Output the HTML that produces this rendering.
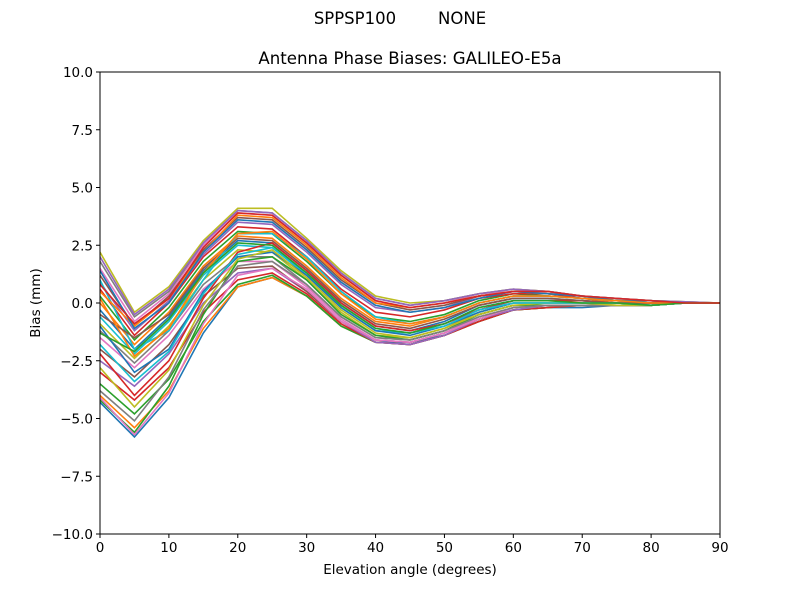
<!DOCTYPE html>
<html><head><meta charset="utf-8"><style>
body{margin:0;background:#fff;}
svg text{font-family:"DejaVu Sans","Liberation Sans",sans-serif;fill:#000;}
</style></head><body>
<svg id="chart" width="800" height="600" xmlns="http://www.w3.org/2000/svg">
<rect width="800" height="600" fill="#fff"/>
<text x="400" y="24" text-anchor="middle" font-size="16.5" xml:space="preserve">SPPSP100        NONE</text>
<text x="410" y="64" text-anchor="middle" font-size="16.6">Antenna Phase Biases: GALILEO-E5a</text>
<g id="lines"></g>
<g id="axes"></g>
<text x="410" y="574" text-anchor="middle" font-size="13.5">Elevation angle (degrees)</text>
<text transform="translate(40,303) rotate(-90)" text-anchor="middle" font-size="13.5">Bias (mm)</text>
</svg>
<script>
const elevations=[0,5,10,15,20,25,30,35,40,45,50,55,60,65,70,75,80,85,90];
const xTicks=[0,10,20,30,40,50,60,70,80,90];
const yTicks=[-10,-7.5,-5,-2.5,0,2.5,5,7.5,10];
const yTickLabels=["\u221210.0","\u22127.5","\u22125.0","\u22122.5","0.0","2.5","5.0","7.5","10.0"];
const s01=[-4.3,-5.8,-4.1,-1.3,0.7,1.1,0.3,-1.0,-1.7,-1.7,-1.4,-0.8,-0.3,-0.2,-0.2,-0.1,-0.1,0.0,0];
const s02=[-4.0,-5.4,-3.8,-1.1,0.7,1.1,0.3,-1.0,-1.7,-1.8,-1.4,-0.8,-0.3,-0.2,-0.1,-0.1,-0.1,0.0,0];
const s03=[-3.5,-4.8,-3.3,-0.8,0.8,1.2,0.3,-1.0,-1.7,-1.8,-1.4,-0.8,-0.3,-0.2,-0.1,-0.1,-0.1,0.0,0];
const s04=[-3.0,-4.2,-2.8,-0.4,1.0,1.3,0.4,-0.9,-1.7,-1.8,-1.4,-0.8,-0.3,-0.2,-0.1,-0.1,-0.1,0.0,0];
const s05=[-2.5,-3.6,-2.2,0.0,1.3,1.5,0.5,-0.8,-1.7,-1.8,-1.4,-0.7,-0.3,-0.1,-0.1,-0.1,-0.1,0.0,0];
const s06=[-2.0,-3.2,-1.8,0.3,1.5,1.6,0.5,-0.8,-1.6,-1.7,-1.3,-0.7,-0.2,-0.1,-0.1,-0.1,-0.1,0.0,0];
const s07=[-1.5,-2.8,-1.4,0.6,1.8,1.8,0.7,-0.7,-1.6,-1.7,-1.3,-0.6,-0.2,-0.1,-0.1,-0.1,-0.1,0.0,0];
const s08=[-1.2,-2.6,-1.2,0.8,2.0,2.0,0.8,-0.6,-1.5,-1.6,-1.2,-0.5,-0.1,-0.1,-0.1,-0.1,-0.1,0.0,0];
const s09=[-0.9,-2.4,-1.0,1.0,2.3,2.2,1.0,-0.4,-1.4,-1.5,-1.1,-0.4,0.0,0.0,0.0,-0.1,-0.1,0.0,0];
const s10=[-0.6,-2.2,-0.8,1.2,2.5,2.4,1.2,-0.2,-1.2,-1.3,-0.9,-0.2,0.1,0.1,0.1,0.0,-0.1,0.0,0];
const s11=[-0.3,-2.0,-0.6,1.4,2.7,2.6,1.4,0.0,-1.0,-1.2,-0.8,-0.1,0.2,0.2,0.1,0.0,0.0,0.0,0];
const s12=[0.0,-1.8,-0.4,1.6,2.9,2.8,1.6,0.2,-0.8,-1.0,-0.6,0.0,0.3,0.3,0.2,0.0,0.0,0.0,0];
const s13=[0.3,-1.6,-0.2,1.8,3.1,3.0,1.8,0.4,-0.6,-0.8,-0.5,0.1,0.4,0.3,0.2,0.1,0.0,0.0,0];
const s14=[0.6,-1.4,0.0,2.0,3.3,3.2,2.0,0.6,-0.4,-0.6,-0.3,0.2,0.4,0.4,0.2,0.1,0.0,0.0,0];
const s15=[0.9,-1.2,0.1,2.1,3.5,3.4,2.2,0.8,-0.2,-0.4,-0.2,0.3,0.5,0.4,0.3,0.1,0.1,0.0,0];
const s16=[1.2,-1.0,0.3,2.3,3.7,3.6,2.4,1.0,0.0,-0.3,-0.1,0.3,0.5,0.4,0.3,0.1,0.1,0.0,0];
const s17=[1.5,-0.8,0.4,2.5,3.9,3.8,2.6,1.2,0.1,-0.2,0.0,0.4,0.5,0.5,0.3,0.2,0.1,0.0,0];
const s18=[1.8,-0.6,0.5,2.6,4.0,3.9,2.7,1.3,0.2,-0.1,0.1,0.4,0.6,0.5,0.3,0.2,0.1,0.05,0];
const s19=[2.2,-0.4,0.7,2.7,4.1,4.1,2.8,1.4,0.3,0.0,0.1,0.4,0.6,0.5,0.3,0.2,0.1,0.05,0];
const s20=[1.0,-2.0,-1.2,1.0,3.0,3.0,2.0,0.5,-0.6,-0.9,-0.6,0.0,0.3,0.3,0.2,0.1,0.0,0.0,0];
const s21=[-1.0,-3.0,-2.0,0.5,2.0,2.2,1.2,-0.2,-1.2,-1.4,-1.0,-0.4,0.0,0.0,0.0,0.0,-0.1,0.0,0];
const s22=[0.5,-1.0,0.2,2.2,3.8,3.7,2.5,1.1,0.0,-0.2,0.0,0.3,0.5,0.4,0.3,0.1,0.1,0.0,0];
const s23=[-4.2,-5.6,-3.6,-0.5,1.8,2.0,1.0,-0.5,-1.4,-1.6,-1.2,-0.5,-0.1,-0.1,-0.1,-0.1,-0.1,0.0,0];
const s24=[-2.2,-4.0,-2.5,0.2,2.2,2.6,1.4,0.0,-1.0,-1.2,-0.9,-0.3,0.1,0.1,0.1,0.0,0.0,0.0,0];
const s25=[2.0,-0.5,0.6,2.6,4.0,3.9,2.7,1.3,0.2,-0.1,0.1,0.4,0.6,0.5,0.3,0.2,0.1,0.05,0];
const s26=[-0.5,-1.5,-0.5,1.5,2.8,2.7,1.5,0.1,-0.9,-1.1,-0.7,-0.1,0.2,0.2,0.1,0.0,0.0,0.0,0];
const s27=[-4.1,-5.7,-3.9,-0.9,1.2,1.5,0.6,-0.8,-1.6,-1.7,-1.3,-0.7,-0.2,-0.1,-0.1,-0.1,-0.1,0.0,0];
const s28=[-3.8,-5.1,-3.2,-0.3,1.6,1.8,0.8,-0.6,-1.5,-1.6,-1.2,-0.6,-0.2,-0.1,-0.1,-0.1,-0.1,0.0,0];
const s29=[-2.8,-4.5,-2.9,-0.1,1.9,2.3,1.1,-0.3,-1.3,-1.5,-1.1,-0.5,-0.1,0.0,0.0,-0.1,-0.1,0.0,0];
const s30=[-1.8,-3.4,-2.1,0.4,2.1,2.4,1.3,-0.1,-1.1,-1.3,-1.0,-0.3,0.0,0.0,0.0,0.0,-0.1,0.0,0];
const s31=[1.4,-1.1,0.0,2.2,3.6,3.5,2.3,0.9,-0.1,-0.4,-0.2,0.2,0.5,0.4,0.3,0.1,0.1,0.0,0];
const s32=[0.2,-2.3,-1.1,1.3,3.0,3.1,1.9,0.4,-0.7,-0.9,-0.6,0.0,0.3,0.3,0.2,0.1,0.0,0.0,0];
const s33=[-1.3,-2.1,-0.7,1.3,2.6,2.5,1.3,-0.1,-1.1,-1.3,-0.9,-0.2,0.1,0.1,0.0,0.0,-0.1,0.0,0];
const s34=[0.8,-0.9,0.2,2.4,3.9,3.8,2.6,1.2,0.1,-0.2,0.0,0.3,0.5,0.5,0.3,0.2,0.1,0.0,0];
const seriesList=[s01,s02,s03,s04,s05,s06,s07,s08,s09,s10,s11,s12,s13,s14,s15,s16,s17,s18,s19,s20,s21,s22,s23,s24,s25,s26,s27,s28,s29,s30,s31,s32,s33,s34];
const colors=["#1f77b4","#ff7f0e","#2ca02c","#d62728","#9467bd","#8c564b","#e377c2","#7f7f7f","#bcbd22","#17becf"];
const L=100,R=720,T=72,B=534;
function xs(v){return L+(v-0)/90*(R-L);}
function ys(v){return B-(v+10)/20*(B-T);}
const NS="http://www.w3.org/2000/svg";
const lg=document.getElementById('lines');
const cp=document.createElementNS(NS,'clipPath');cp.setAttribute('id','clip');
const cr=document.createElementNS(NS,'rect');cr.setAttribute('x',L);cr.setAttribute('y',T);cr.setAttribute('width',R-L);cr.setAttribute('height',B-T);
cp.appendChild(cr);document.getElementById('chart').appendChild(cp);
lg.setAttribute('clip-path','url(#clip)');
seriesList.forEach((s,i)=>{
  const p=document.createElementNS(NS,'polyline');
  p.setAttribute('points',s.map((v,j)=>xs(elevations[j])+','+ys(v)).join(' '));
  p.setAttribute('fill','none');p.setAttribute('stroke',colors[i%10]);p.setAttribute('stroke-width','1.6');
  
  
  lg.appendChild(p);
});
const ax=document.getElementById('axes');
const fr=document.createElementNS(NS,'rect');
fr.setAttribute('x',L);fr.setAttribute('y',T);fr.setAttribute('width',R-L);fr.setAttribute('height',B-T);
fr.setAttribute('fill','none');fr.setAttribute('stroke','#000');fr.setAttribute('stroke-width','1');


ax.appendChild(fr);
xTicks.forEach(v=>{
  const l=document.createElementNS(NS,'line');
  l.setAttribute('x1',xs(v));l.setAttribute('x2',xs(v));l.setAttribute('y1',B);l.setAttribute('y2',B+4);l.setAttribute('stroke','#000');
  
  
  ax.appendChild(l);
  const t=document.createElementNS(NS,'text');
  t.setAttribute('x',xs(v));t.setAttribute('y',B+18);t.setAttribute('text-anchor','middle');t.setAttribute('font-size','13.5');
  t.textContent=String(v);
  
  
  ax.appendChild(t);
});
yTicks.forEach((v,i)=>{
  const l=document.createElementNS(NS,'line');
  l.setAttribute('x1',L-4);l.setAttribute('x2',L);l.setAttribute('y1',ys(v));l.setAttribute('y2',ys(v));l.setAttribute('stroke','#000');
  
  
  ax.appendChild(l);
  const t=document.createElementNS(NS,'text');
  t.setAttribute('x',L-7);t.setAttribute('y',ys(v)+5);t.setAttribute('text-anchor','end');t.setAttribute('font-size','13.5');
  t.textContent=yTickLabels[i];
  
  
  ax.appendChild(t);
});
</script>
</body></html>
